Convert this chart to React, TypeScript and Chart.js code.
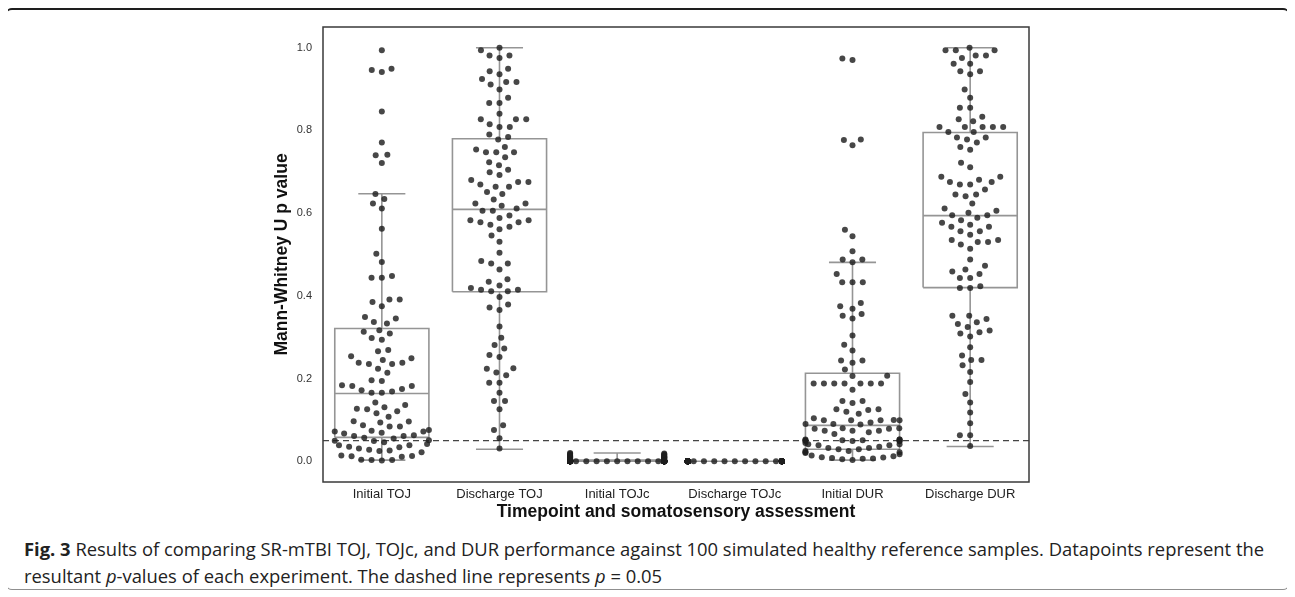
import React, { useEffect, useRef } from "react";
import { Chart, registerables } from "chart.js";

Chart.register(...registerables);

const categories = ["Initial TOJ", "Discharge TOJ", "Initial TOJc", "Discharge TOJc", "Initial DUR", "Discharge DUR"];
const yTicks = [0.0, 0.2, 0.4, 0.6, 0.8, 1.0];
const threshold = 0.05;

const initialTOJ = [
  0.994, 0.949, 0.946, 0.941, 0.846, 0.771, 0.741, 0.740, 0.721, 0.646,
  0.634, 0.623, 0.611, 0.562, 0.502, 0.482, 0.448, 0.444, 0.444, 0.391,
  0.391, 0.385, 0.375, 0.349, 0.345, 0.337, 0.333, 0.317, 0.313, 0.309,
  0.298, 0.294, 0.269, 0.266, 0.254, 0.249, 0.245, 0.238, 0.238, 0.235,
  0.235, 0.224, 0.214, 0.196, 0.194, 0.184, 0.182, 0.182, 0.175, 0.172,
  0.169, 0.166, 0.166, 0.142, 0.136, 0.131, 0.127, 0.126, 0.121, 0.116,
  0.108, 0.097, 0.096, 0.094, 0.087, 0.084, 0.084, 0.076, 0.074, 0.072,
  0.072, 0.069, 0.067, 0.063, 0.061, 0.061, 0.057, 0.055, 0.051, 0.050,
  0.049, 0.046, 0.042, 0.039, 0.039, 0.035, 0.034, 0.031, 0.028, 0.026,
  0.025, 0.022, 0.014, 0.013, 0.012, 0.011, 0.004, 0.003, 0.003, 0.002,
];

const dischargeTOJ = [
  1.000, 0.994, 0.981, 0.981, 0.975, 0.949, 0.943, 0.936, 0.924, 0.917,
  0.917, 0.911, 0.899, 0.879, 0.866, 0.866, 0.840, 0.827, 0.827, 0.827,
  0.815, 0.808, 0.808, 0.790, 0.784, 0.778, 0.760, 0.754, 0.747, 0.747,
  0.747, 0.735, 0.723, 0.716, 0.705, 0.699, 0.692, 0.680, 0.675, 0.675,
  0.669, 0.664, 0.664, 0.651, 0.646, 0.633, 0.623, 0.623, 0.618, 0.611,
  0.606, 0.606, 0.594, 0.588, 0.583, 0.583, 0.578, 0.578, 0.572, 0.567,
  0.561, 0.546, 0.531, 0.504, 0.484, 0.478, 0.478, 0.464, 0.440, 0.434,
  0.425, 0.419, 0.415, 0.415, 0.411, 0.411, 0.397, 0.379, 0.372, 0.366,
  0.326, 0.299, 0.281, 0.273, 0.257, 0.252, 0.225, 0.224, 0.215, 0.208,
  0.190, 0.190, 0.166, 0.146, 0.146, 0.126, 0.087, 0.076, 0.056, 0.031,
];

const initialTOJc = [
  0.0, 0.0, 0.0, 0.0, 0.0, 0.0, 0.0, 0.0, 0.0, 0.0,
  0.0, 0.0, 0.0, 0.0, 0.0, 0.0, 0.0, 0.0, 0.0, 0.0,
  0.0, 0.0, 0.0, 0.0, 0.0, 0.0, 0.0, 0.0, 0.0, 0.0,
  0.0, 0.0, 0.0, 0.0, 0.0, 0.0, 0.0, 0.0, 0.0, 0.0,
  0.0, 0.0, 0.0, 0.0, 0.0, 0.0, 0.0, 0.0, 0.0, 0.0,
  0.0, 0.0, 0.0, 0.0, 0.0, 0.0, 0.0, 0.0, 0.0, 0.0,
  0.0, 0.0, 0.0, 0.0, 0.0, 0.0, 0.0, 0.0, 0.0, 0.0,
  0.0, 0.0, 0.0, 0.0, 0.001, 0.002, 0.002, 0.003, 0.003, 0.004,
  0.005, 0.005, 0.006, 0.007, 0.008, 0.008, 0.009, 0.010, 0.010, 0.011,
  0.012, 0.012, 0.013, 0.014, 0.015, 0.016, 0.017, 0.018, 0.019, 0.020,
];

const dischargeTOJc = [
  0.0, 0.0, 0.0, 0.0, 0.0, 0.0, 0.0, 0.0, 0.0, 0.0,
  0.0, 0.0, 0.0, 0.0, 0.0, 0.0, 0.0, 0.0, 0.0, 0.0,
  0.0, 0.0, 0.0, 0.0, 0.0, 0.0, 0.0, 0.0, 0.0, 0.0,
  0.0, 0.0, 0.0, 0.0, 0.0, 0.0, 0.0, 0.0, 0.0, 0.0,
  0.0, 0.0, 0.0, 0.0, 0.0, 0.0, 0.0, 0.0, 0.0, 0.0,
  0.0, 0.0, 0.0, 0.0, 0.0, 0.0, 0.0, 0.0, 0.0, 0.0,
  0.0, 0.0, 0.0, 0.0, 0.0, 0.0, 0.0, 0.0, 0.0, 0.0,
  0.0, 0.0, 0.0, 0.0, 0.0, 0.0, 0.0, 0.0, 0.0, 0.0,
  0.0, 0.0, 0.0, 0.0, 0.0, 0.0, 0.0, 0.0, 0.0, 0.0,
  0.0, 0.0, 0.0, 0.0, 0.0, 0.0, 0.0, 0.0, 0.0, 0.0,
];

const initialDUR = [
  0.974, 0.970, 0.778, 0.777, 0.764, 0.560, 0.544, 0.508, 0.488, 0.488,
  0.481, 0.453, 0.433, 0.433, 0.433, 0.383, 0.375, 0.369, 0.356, 0.352,
  0.345, 0.304, 0.282, 0.268, 0.244, 0.244, 0.238, 0.222, 0.207, 0.206,
  0.188, 0.188, 0.188, 0.188, 0.188, 0.188, 0.188, 0.173, 0.146, 0.146,
  0.141, 0.126, 0.126, 0.124, 0.120, 0.115, 0.104, 0.100, 0.099, 0.099,
  0.099, 0.099, 0.094, 0.090, 0.090, 0.089, 0.080, 0.080, 0.079, 0.079,
  0.074, 0.074, 0.074, 0.070, 0.066, 0.053, 0.053, 0.053, 0.051, 0.051,
  0.051, 0.049, 0.049, 0.049, 0.049, 0.044, 0.041, 0.041, 0.039, 0.039,
  0.035, 0.032, 0.032, 0.029, 0.029, 0.025, 0.025, 0.022, 0.022, 0.020,
  0.017, 0.014, 0.012, 0.010, 0.009, 0.008, 0.007, 0.006, 0.005, 0.003,
];

const dischargeDUR = [
  1.000, 0.994, 0.994, 0.994, 0.981, 0.981, 0.975, 0.961, 0.961, 0.943,
  0.943, 0.936, 0.899, 0.879, 0.855, 0.855, 0.833, 0.827, 0.822, 0.808,
  0.808, 0.808, 0.808, 0.808, 0.796, 0.796, 0.783, 0.783, 0.778, 0.771,
  0.760, 0.753, 0.722, 0.711, 0.688, 0.688, 0.681, 0.675, 0.675, 0.669,
  0.669, 0.657, 0.645, 0.645, 0.641, 0.623, 0.611, 0.606, 0.601, 0.595,
  0.595, 0.589, 0.583, 0.577, 0.572, 0.567, 0.567, 0.556, 0.556, 0.548,
  0.535, 0.535, 0.530, 0.530, 0.524, 0.514, 0.488, 0.473, 0.464, 0.459,
  0.453, 0.443, 0.443, 0.423, 0.419, 0.419, 0.352, 0.352, 0.344, 0.336,
  0.332, 0.325, 0.316, 0.312, 0.309, 0.302, 0.276, 0.256, 0.245, 0.245,
  0.232, 0.216, 0.192, 0.163, 0.142, 0.118, 0.092, 0.063, 0.063, 0.037,
];

// box-plot statistics (one per category)
const q1Values = [0.058, 0.410, 0.0, 0.0, 0.029, 0.420];
const medianValues = [0.164, 0.609, 0.0, 0.0, 0.087, 0.594];
const q3Values = [0.321, 0.780, 0.003, 0.0, 0.213, 0.795];
const whiskerLowValues = [0.003, 0.029, 0.0, 0.0, 0.003, 0.036];
const whiskerHighValues = [0.647, 1.0, 0.02, 0.0, 0.481, 1.0];

const groups = [initialTOJ, dischargeTOJ, initialTOJc, dischargeTOJc, initialDUR, dischargeDUR];

// styling constants
const BOX_HALF = 0.4;
const CAP_HALF = 0.2;
const SWARM_R = 4.9;
const POINT_COLOR = "rgba(30,30,30,0.82)";
const BOX_COLOR = "#959595";
const FONT = "'Liberation Sans', Arial, Helvetica, sans-serif";

// seaborn-like beeswarm: returns pixel offsets from the category centre
function swarmOffsets(yPx: number[], r: number, gutter: number): number[] {
  const order = yPx.map((_, i) => i).sort((a, b) => yPx[b] - yPx[a]);
  const placed: { x: number; y: number }[] = [];
  const out = new Array(yPx.length).fill(0);
  const minD2 = (2 * r) * (2 * r);
  for (const idx of order) {
    const y = yPx[idx];
    const nb = placed.filter((p) => Math.abs(p.y - y) < 2 * r);
    const cands: number[] = [0];
    for (const p of nb) {
      const dy = y - p.y;
      const dx = Math.sqrt(Math.max(minD2 - dy * dy, 0)) * 1.05;
      cands.push(p.x - dx, p.x + dx);
    }
    const sorted = cands.map((c, k) => ({ c, k })).sort((a, b) => Math.abs(a.c) - Math.abs(b.c) || a.k - b.k);
    let chosen = sorted[sorted.length - 1].c;
    for (const { c } of sorted) {
      if (nb.every((p) => (p.x - c) * (p.x - c) + (p.y - y) * (p.y - y) >= minD2 - 1e-6)) {
        chosen = c;
        break;
      }
    }
    placed.push({ x: chosen, y });
    out[idx] = chosen;
  }
  return out.map((x) => Math.max(-gutter, Math.min(gutter, x)));
}

function buildBoxLines() {
  const pts: { x: number; y: number | null }[] = [];
  categories.forEach((_, i) => {
    const l = i - BOX_HALF;
    const r = i + BOX_HALF;
    const gap = () => ({ x: i, y: null });
    pts.push({ x: l, y: q1Values[i] }, { x: r, y: q1Values[i] }, { x: r, y: q3Values[i] }, { x: l, y: q3Values[i] }, { x: l, y: q1Values[i] }, gap());
    pts.push({ x: l, y: medianValues[i] }, { x: r, y: medianValues[i] }, gap());
    pts.push({ x: i, y: q3Values[i] }, { x: i, y: whiskerHighValues[i] }, gap());
    pts.push({ x: i - CAP_HALF, y: whiskerHighValues[i] }, { x: i + CAP_HALF, y: whiskerHighValues[i] }, gap());
    pts.push({ x: i, y: q1Values[i] }, { x: i, y: whiskerLowValues[i] }, gap());
    pts.push({ x: i - CAP_HALF, y: whiskerLowValues[i] }, { x: i + CAP_HALF, y: whiskerLowValues[i] }, gap());
  });
  return pts;
}

const plotFrame = {
  id: "plotFrame",
  afterDatasetsDraw(chart: any) {
    const { ctx, chartArea } = chart;
    const { left, top, right, bottom } = chartArea;
    ctx.save();
    ctx.strokeStyle = "#3a3a3a";
    ctx.lineWidth = 1.5;
    ctx.strokeRect(left, top, right - left, bottom - top);
    ctx.restore();
  },
};

export default function App() {
  const ref = useRef<HTMLCanvasElement>(null);

  useEffect(() => {
    const canvas = ref.current;
    if (!canvas) return;
    const chart = new Chart(canvas, {
      type: "scatter",
      data: {
        datasets: [
          {
            type: "scatter",
            label: "p-values",
            data: [],
            pointRadius: 3,
            pointHoverRadius: 3,
            pointBackgroundColor: POINT_COLOR,
            pointBorderWidth: 0,
            order: 0,
          } as any,
          {
            type: "line",
            label: "p = 0.05",
            data: [
              { x: -0.5, y: threshold },
              { x: 5.5, y: threshold },
            ],
            borderColor: "#454545",
            borderWidth: 1.3,
            borderDash: [6, 4],
            pointRadius: 0,
            order: 1,
          } as any,
          {
            type: "line",
            label: "boxes",
            data: buildBoxLines(),
            borderColor: BOX_COLOR,
            borderWidth: 1.6,
            pointRadius: 0,
            spanGaps: false,
            order: 2,
          } as any,
        ],
      },
      options: {
        animation: false,
        responsive: false,
        devicePixelRatio: 1,
        layout: { padding: { top: 7, right: 31, left: 0, bottom: 0 } },
        plugins: { legend: { display: false }, tooltip: { enabled: false } },
        scales: {
          x: {
            type: "linear",
            min: -0.5,
            max: 5.5,
            grid: { display: false, drawTicks: false },
            border: { display: false },
            afterBuildTicks: (s: any) => {
              s.ticks = categories.map((_, i) => ({ value: i }));
            },
            afterFit: (s: any) => {
              s.height = 43;
              s.paddingLeft = 0;
              s.paddingRight = 0;
            },
            ticks: {
              autoSkip: false,
              maxRotation: 0,
              padding: 5,
              color: "#222",
              font: { family: FONT, size: 13 },
              callback: (v: any) => categories[Math.round(Number(v))],
            },
            title: {
              display: true,
              text: "Timepoint and somatosensory assessment",
              color: "#111",
              font: { family: FONT, size: 17.5, weight: "bold" },
              padding: { top: 0, bottom: 2 },
            },
          },
          y: {
            type: "linear",
            min: -0.05,
            max: 1.05,
            grid: { display: false, drawTicks: false },
            border: { display: false },
            afterBuildTicks: (s: any) => {
              s.ticks = yTicks.map((v) => ({ value: v }));
            },
            afterFit: (s: any) => {
              s.width = 83;
              s.paddingTop = 0;
              s.paddingBottom = 0;
            },
            ticks: {
              padding: 11,
              color: "#333",
              font: { family: FONT, size: 11 },
              callback: (v: any) => Number(v).toFixed(1),
            },
            title: {
              display: true,
              text: "Mann-Whitney U p value",
              color: "#111",
              font: { family: FONT, size: 17.5, weight: "bold" },
              padding: { top: 32, bottom: 0 },
            },
          },
        },
      },
      plugins: [plotFrame],
    } as any);

    const ys = chart.scales.y;
    const xs = chart.scales.x;
    const unitPx = xs.getPixelForValue(1) - xs.getPixelForValue(0);
    const pts: { x: number; y: number }[] = [];
    groups.forEach((vals, gi) => {
      const offs = swarmOffsets(
        vals.map((v) => ys.getPixelForValue(v)),
        SWARM_R,
        BOX_HALF * unitPx
      );
      vals.forEach((v, k) => pts.push({ x: gi + offs[k] / unitPx, y: v }));
    });
    (chart.data.datasets[0] as any).data = pts;
    chart.update("none");

    return () => chart.destroy();
  }, []);

  return (
    <div style={{ position: "relative", width: 1279, height: 582 }}>
      <div
        style={{
          position: "absolute",
          left: -3,
          top: 0,
          width: 1285,
          height: 582,
          boxSizing: "border-box",
          border: "1px solid #8f8f8f",
          borderTop: "2.5px solid #1e1e1e",
          borderRadius: 7,
        }}
      />
      <canvas
        ref={ref}
        width={820}
        height={505}
        style={{ position: "absolute", left: 232, top: 12, width: 820, height: 505 }}
      />
      <div
        style={{
          position: "absolute",
          left: 16,
          top: 527,
          fontFamily: "'Open Sans', sans-serif",
          fontSize: 18.4,
          lineHeight: "27px",
          color: "#222",
          whiteSpace: "nowrap",
        }}
      >
        <b>Fig. 3</b> Results of comparing SR-mTBI TOJ, TOJc, and DUR performance against 100 simulated healthy reference samples. Datapoints represent the
        <br />
        resultant <i>p</i>-values of each experiment. The dashed line represents <i>p</i> = 0.05
      </div>
    </div>
  );
}
